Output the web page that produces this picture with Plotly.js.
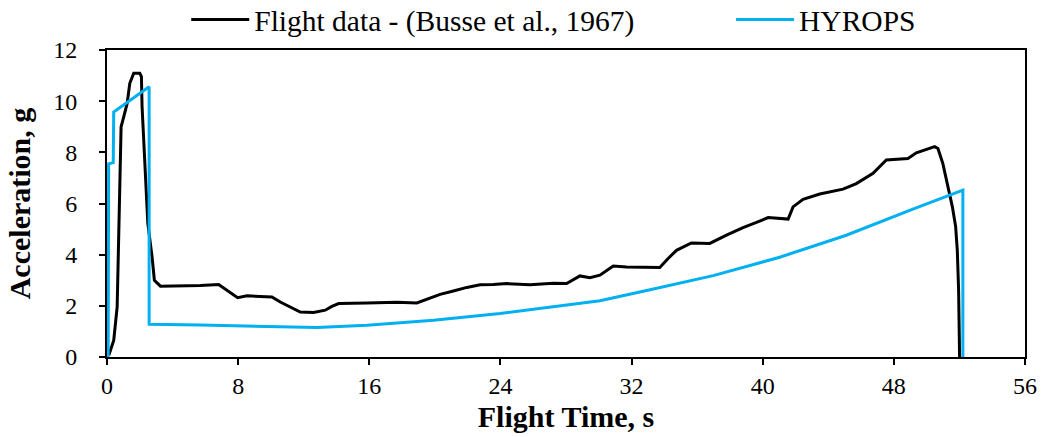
<!DOCTYPE html>
<html>
<head>
<meta charset="utf-8">
<script src="https://cdn.plot.ly/plotly-3.0.1.min.js"></script>
<style>
  html, body { margin: 0; padding: 0; background: #fff; }
  #chart { width: 1043px; height: 437px; }
</style>
</head>
<body>
<div id="chart"></div>
<script>
// Measured flight acceleration (Busse et al., 1967)
const flightTime = [0.11, 0.41, 0.62, 0.72, 0.78, 0.86, 1.02, 1.23, 1.39, 1.63, 2.0, 2.10, 2.14, 2.24, 2.35, 2.49, 2.75, 2.89, 3.26, 4.07,
  5.70, 6.81, 7.02, 7.32, 7.97, 8.54, 10.06, 10.57, 11.18, 11.79, 12.60, 13.31, 13.72, 14.13, 15.86, 17.69, 18.9, 19.51, 20.32,
  21.13, 21.95, 22.76, 23.57, 24.39, 25.81, 27.23, 28.04, 28.85, 29.46, 30.07, 30.88, 31.69, 33.72, 34.23, 34.74, 35.65, 36.77,
  37.79, 38.80, 39.62, 40.33, 41.55, 41.85, 42.46, 43.48, 44.90, 45.71, 46.73, 47.54, 48.86, 49.37, 50.49, 50.69, 50.99, 51.30,
  51.57, 51.77, 51.87, 51.95, 52.01];
const flightAccel = [0.07, 0.65, 1.96, 4.57, 7.18, 9.0, 9.39, 9.91, 10.7, 11.09, 11.09, 10.96, 9.78, 8.48, 6.52, 5.22, 3.91, 3.0, 2.77, 2.77,
  2.79, 2.83, 2.74, 2.61, 2.32, 2.39, 2.35, 2.15, 1.96, 1.76, 1.74, 1.83, 1.98, 2.09, 2.11, 2.14, 2.11, 2.26, 2.45,
  2.58, 2.72, 2.82, 2.83, 2.87, 2.82, 2.88, 2.87, 3.17, 3.10, 3.20, 3.56, 3.52, 3.50, 3.85, 4.17, 4.46, 4.44,
  4.76, 5.06, 5.26, 5.45, 5.39, 5.87, 6.16, 6.37, 6.56, 6.78, 7.18, 7.70, 7.76, 7.98, 8.22, 8.15, 7.56, 6.65,
  5.87, 5.09, 4.17, 2.61, 0.0];

// HYROPS simulation
const hyropsTime = [0.07, 0.10, 0.38, 0.41, 2.57, 2.57, 5.70, 11.18, 12.81, 15.86, 19.92, 23.98, 28.04, 30.07, 32.92, 36.98,
  41.04, 45.10, 49.16, 52.21, 52.21];
const hyropsAccel = [0.0, 7.55, 7.60, 9.58, 10.56, 1.28, 1.25, 1.18, 1.15, 1.24, 1.44, 1.70, 2.02, 2.20, 2.60, 3.18,
  3.90, 4.76, 5.78, 6.52, 0.0];

const xTicks = [0, 8, 16, 24, 32, 40, 48, 56];
const yTicks = [0, 2, 4, 6, 8, 10, 12];

const serif = '"Liberation Serif", "Times New Roman", Times, serif';

const traces = [
  {
    x: flightTime, y: flightAccel, type: 'scatter', mode: 'lines',
    name: 'Flight data - (Busse et al., 1967)',
    line: { color: '#000000', width: 3 },
    legend: 'legend'
  },
  {
    x: hyropsTime, y: hyropsAccel, type: 'scatter', mode: 'lines',
    name: 'HYROPS',
    line: { color: '#00B0F0', width: 3 },
    legend: 'legend2'
  }
];

const legendStyle = {
  orientation: 'h', xanchor: 'left', yanchor: 'middle', y: 1.098,
  font: { family: serif, size: 29.5, color: '#000' },
  itemwidth: 58, bgcolor: 'rgba(0,0,0,0)', borderwidth: 0
};

const layout = {
  width: 1043, height: 437,
  margin: { l: 106.5, r: 17.5, t: 50, b: 80.3, autoexpand: false },
  paper_bgcolor: '#ffffff', plot_bgcolor: '#ffffff',
  font: { family: serif, size: 24, color: '#000' },
  showlegend: true,
  legend: Object.assign({}, legendStyle, { x: 0.0863 }),
  legend2: Object.assign({}, legendStyle, { x: 0.6798 }),
  xaxis: {
    range: [0, 56], tickvals: xTicks, ticktext: xTicks.map(String),
    showgrid: false, zeroline: false,
    showline: true, linecolor: '#000', linewidth: 2, mirror: true,
    ticks: 'outside', ticklen: 6, tickwidth: 2, tickcolor: '#000',
    tickfont: { family: serif, size: 24 },
    title: { text: '<b>Flight Time, s</b>', font: { family: serif, size: 30 }, standoff: 8 }
  },
  yaxis: {
    range: [0, 12], tickvals: yTicks, ticktext: yTicks.map(String),
    showgrid: false, zeroline: false,
    showline: true, linecolor: '#000', linewidth: 2, mirror: true,
    ticks: 'outside', ticklen: 6, tickwidth: 2, tickcolor: '#000',
    ticklabelstandoff: 17,
    tickfont: { family: serif, size: 24 },
    title: { text: '<b>Acceleration, g</b>', font: { family: serif, size: 30 }, standoff: 14 }
  }
};

Plotly.newPlot('chart', traces, layout, { staticPlot: true, displayModeBar: false });
</script>
</body>
</html>
